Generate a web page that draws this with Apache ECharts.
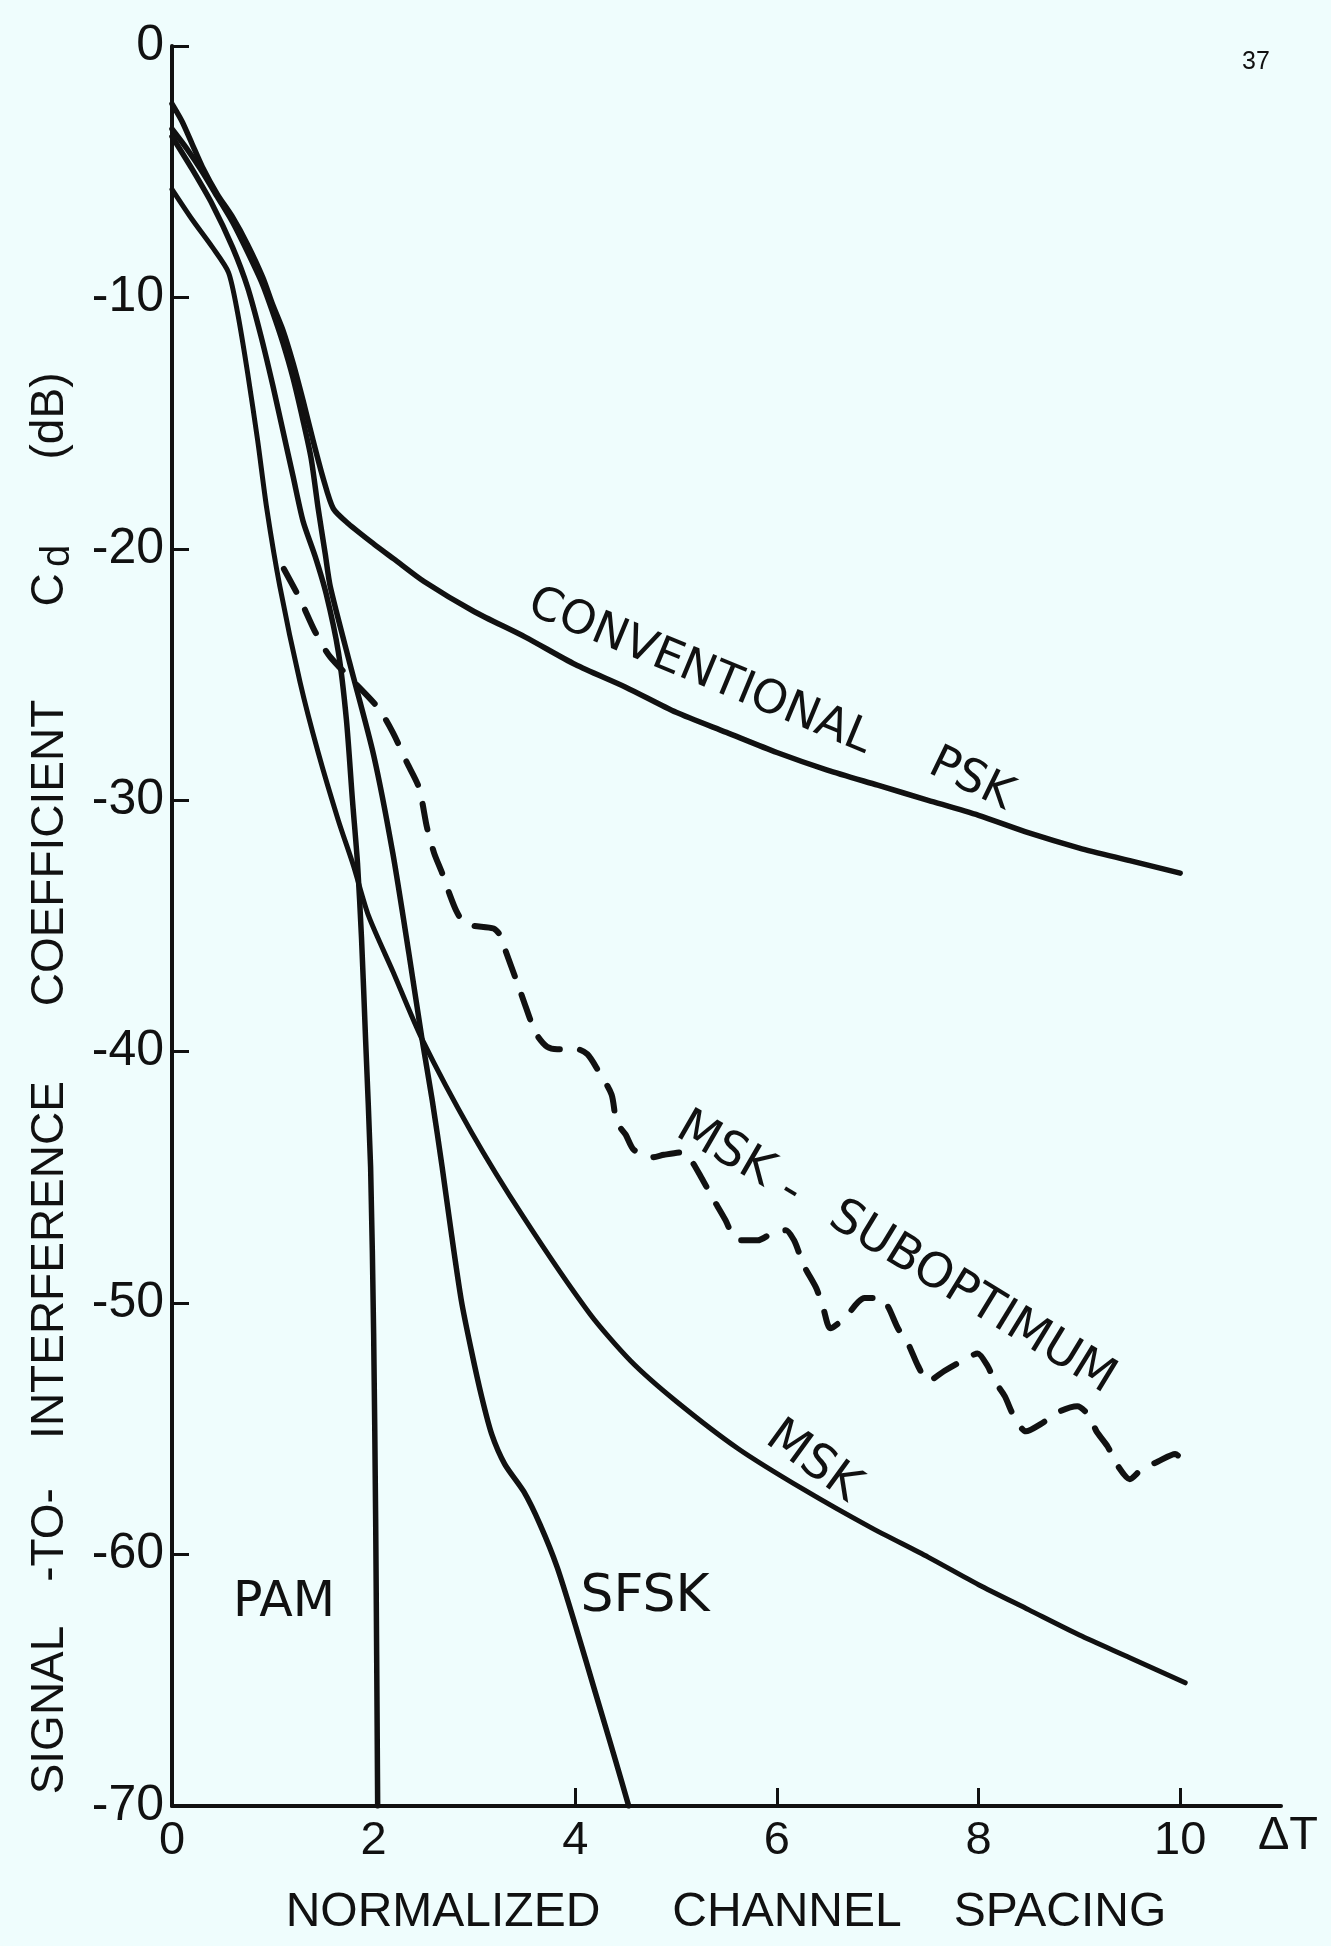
<!DOCTYPE html>
<html>
<head>
<meta charset="utf-8">
<title>Signal-to-interference coefficient vs. normalized channel spacing</title>
<script src="https://cdn.jsdelivr.net/npm/echarts@6/dist/echarts.min.js"></script>
<style>
  html, body { margin: 0; padding: 0; background: #effdfd; }
  #chart { width: 1331px; height: 1946px; }
</style>
</head>
<body>
<div id="chart"></div>
<script>
// Axis ticks
const X_TICK_LABELS = [0, 2, 4, 6, 8, 10];
const X_TICK_MARKS = [4, 6, 8, 10];
const Y_TICK_LABELS = [-70, -60, -50, -40, -30, -20, -10, 0];
const Y_TICK_MARKS = [-60, -50, -40, -30, -20, -10, 0];

// Curves: [normalized channel spacing ΔT, C_d in dB]
const PSK = [
  [0, -2.3], [0.1, -3.0], [0.2, -3.9], [0.3, -4.8], [0.45, -5.9], [0.6, -6.8],
  [0.75, -7.9], [0.9, -9.2], [1.0, -10.3], [1.1, -11.3], [1.2, -12.6], [1.3, -14.1],
  [1.4, -15.7], [1.5, -17.2], [1.6, -18.4], [1.75, -19.0], [2.0, -19.8], [2.2, -20.4],
  [2.5, -21.3], [3.0, -22.5], [3.5, -23.5], [4.0, -24.6], [4.5, -25.5], [5.0, -26.5],
  [5.5, -27.3], [6.0, -28.1], [6.5, -28.8], [7.0, -29.4], [7.5, -30.0], [8.0, -30.6],
  [8.5, -31.3], [9.0, -31.9], [9.5, -32.4], [10.0, -32.9]
];

const SFSK = [
  [0, -3.3], [0.15, -4.1], [0.3, -5.0], [0.45, -6.0], [0.6, -7.0], [0.75, -8.2],
  [0.9, -9.5], [1.0, -10.6], [1.1, -11.8], [1.2, -13.2], [1.3, -14.9], [1.38, -16.4],
  [1.45, -18.4], [1.52, -20.2], [1.57, -21.5], [1.76, -24.5], [2.0, -28.2], [2.19, -32.1],
  [2.35, -36.1], [2.48, -39.5], [2.58, -41.9], [2.68, -44.6], [2.77, -47.2], [2.87, -49.9],
  [2.97, -51.9], [3.07, -53.7], [3.17, -55.2], [3.3, -56.4], [3.49, -57.5], [3.65, -58.8],
  [3.82, -60.5], [4.0, -62.8], [4.2, -65.5], [4.4, -68.2], [4.53, -70]
];

const PAM = [
  [0, -3.6], [0.2, -4.9], [0.4, -6.3], [0.6, -8.0], [0.75, -9.6], [0.88, -11.5],
  [1.0, -13.5], [1.1, -15.3], [1.2, -17.1], [1.3, -18.9], [1.42, -20.3], [1.53, -21.8],
  [1.65, -24.1], [1.73, -26.8], [1.79, -30.0], [1.84, -32.5], [1.88, -35.5], [1.92, -39.5],
  [1.97, -44.6], [2.0, -51.2], [2.02, -58.6], [2.03, -64.0], [2.04, -70]
];

const MSK = [
  [0, -5.7], [0.2, -6.9], [0.4, -8.0], [0.56, -9.0], [0.65, -10.6], [0.75, -13.0],
  [0.85, -15.7], [0.94, -18.4], [1.07, -21.5], [1.27, -25.3], [1.45, -28.1], [1.65, -30.8],
  [1.8, -32.6], [1.95, -34.6], [2.19, -36.8], [2.48, -39.5], [2.97, -43.2], [3.49, -46.6],
  [4.14, -50.4], [4.55, -52.3], [5.0, -53.9], [5.62, -55.8], [6.26, -57.4], [6.92, -58.9],
  [7.5, -60.1], [8.0, -61.2], [8.5, -62.2], [9.0, -63.2], [9.5, -64.1], [10.05, -65.1]
];

const MSK_SUBOPT = [
  [1.11, -20.8], [1.27, -22.0], [1.42, -23.3], [1.57, -24.3], [2.04, -26.3], [2.19, -27.3],
  [2.33, -28.5], [2.45, -29.5], [2.53, -31.1], [2.6, -32.1], [2.68, -32.9], [2.75, -33.7],
  [2.82, -34.4], [2.9, -34.9], [3.0, -35.0], [3.19, -35.1], [3.26, -35.4], [3.31, -36.0],
  [3.41, -37.1], [3.49, -38.0], [3.57, -38.9], [3.63, -39.4], [3.72, -39.8], [3.82, -39.9],
  [4.02, -39.9], [4.12, -40.1], [4.22, -40.7], [4.36, -41.7], [4.41, -42.8], [4.5, -43.3],
  [4.58, -43.9], [4.76, -44.2], [4.88, -44.1], [5.06, -44.0], [5.13, -44.2], [5.25, -45.0],
  [5.36, -45.8], [5.49, -46.7], [5.56, -47.3], [5.62, -47.5], [5.81, -47.5], [5.96, -47.2],
  [6.09, -47.1], [6.17, -47.5], [6.22, -48.0], [6.28, -48.6], [6.39, -49.4], [6.46, -50.2],
  [6.53, -51.0], [6.67, -50.6], [6.87, -49.8], [7.04, -49.8], [7.11, -50.2], [7.2, -51.0],
  [7.3, -51.6], [7.4, -52.5], [7.5, -53.1], [7.66, -52.7], [7.88, -52.2], [7.99, -52.0],
  [8.09, -52.5], [8.16, -53.1], [8.26, -53.7], [8.35, -54.5], [8.47, -55.1], [8.62, -54.8],
  [8.81, -54.3], [8.98, -54.1], [9.1, -54.5], [9.17, -55.1], [9.28, -55.7], [9.37, -56.4],
  [9.5, -57.0], [9.62, -56.6], [9.78, -56.3], [9.95, -56.0], [10.08, -56.6]
];

const INK = '#111111';
const LABEL_FONT = '"DejaVu Sans", "Liberation Sans", sans-serif';
const TICK_FONT = '"Liberation Sans", "DejaVu Sans", sans-serif';

function curve(name, data, width, dashed) {
  return {
    name: name,
    type: 'line',
    data: data,
    showSymbol: false,
    silent: true,
    smooth: 0.25,
    lineStyle: {
      color: INK,
      width: width,
      type: dashed ? [26, 20] : 'solid',
      cap: 'round',
      join: 'round'
    },
    z: 3
  };
}

// Free-standing text placed on the page (curve labels, axis titles)
function text(str, x, y, deg, size, family) {
  return {
    type: 'text',
    x: x,
    y: y,
    rotation: deg * Math.PI / 180,
    silent: true,
    z: 10,
    style: {
      text: str,
      fontSize: size,
      fontFamily: family || LABEL_FONT,
      fill: INK,
      align: 'center',
      verticalAlign: 'middle',
      textAlign: 'center',
      textVerticalAlign: 'middle'
    }
  };
}

const chart = echarts.init(document.getElementById('chart'), null, { renderer: 'canvas' });

chart.setOption({
  backgroundColor: '#effdfd',
  animation: false,
  grid: { left: 172, right: 50, top: 46, bottom: 140, containLabel: false },
  xAxis: {
    type: 'value',
    min: 0,
    max: 11,
    interval: 2,
    splitLine: { show: false },
    axisLine: { onZero: false, lineStyle: { color: INK, width: 4 } },
    axisTick: { inside: true, length: 18, lineStyle: { color: INK, width: 3 }, customValues: X_TICK_MARKS },
    axisLabel: {
      customValues: X_TICK_LABELS,
      color: INK,
      fontSize: 47,
      fontFamily: TICK_FONT,
      margin: 12
    }
  },
  yAxis: {
    type: 'value',
    min: -70,
    max: 0,
    interval: 10,
    splitLine: { show: false },
    axisLine: { show: true, onZero: false, lineStyle: { color: INK, width: 4 } },
    axisTick: { show: true, inside: true, length: 17, lineStyle: { color: INK, width: 3 }, customValues: Y_TICK_MARKS },
    axisLabel: {
      customValues: Y_TICK_LABELS,
      color: INK,
      fontSize: 50,
      fontFamily: TICK_FONT,
      margin: 8
    }
  },
  series: [
    curve('CONVENTIONAL PSK', PSK, 5.5, false),
    curve('SFSK', SFSK, 5.5, false),
    curve('PAM', PAM, 5.5, false),
    curve('MSK', MSK, 5, false),
    curve('MSK- SUBOPTIMUM', MSK_SUBOPT, 6, true)
  ],
  graphic: [
    // curve labels
    text('CONVENTIONAL', 700, 672, -22.5, 46),
    text('PSK', 971, 780, -26, 46),
    text('MSK', 725, 1150, -30, 48),
    text('-', 790, 1192, -31, 48),
    text('SUBOPTIMUM', 972, 1298, -31.5, 48),
    text('MSK', 813, 1462, -36, 48),
    text('SFSK', 645, 1597, 0, 52),
    text('PAM', 284, 1603, 0, 49),
    // axis unit at the end of the x axis
    text('ΔT', 1288, 1836, 0, 47, TICK_FONT),
    // x axis title
    text('NORMALIZED', 443, 1913, 0, 48, TICK_FONT),
    text('CHANNEL', 787, 1913, 0, 48, TICK_FONT),
    text('SPACING', 1060, 1913, 0, 48, TICK_FONT),
    // y axis title (reads bottom to top)
    text('SIGNAL', 50, 1710, 90, 46, TICK_FONT),
    text('-TO-', 50, 1535, 90, 46, TICK_FONT),
    text('INTERFERENCE', 50, 1260, 90, 46, TICK_FONT),
    text('COEFFICIENT', 50, 853, 90, 46, TICK_FONT),
    text('C', 50, 590, 90, 46, TICK_FONT),
    text('d', 58, 556, 90, 40, TICK_FONT),
    text('(dB)', 50, 416, 90, 46, TICK_FONT),
    // page number
    text('37', 1256, 62, 0, 25, TICK_FONT)
  ]
});
</script>
</body>
</html>
